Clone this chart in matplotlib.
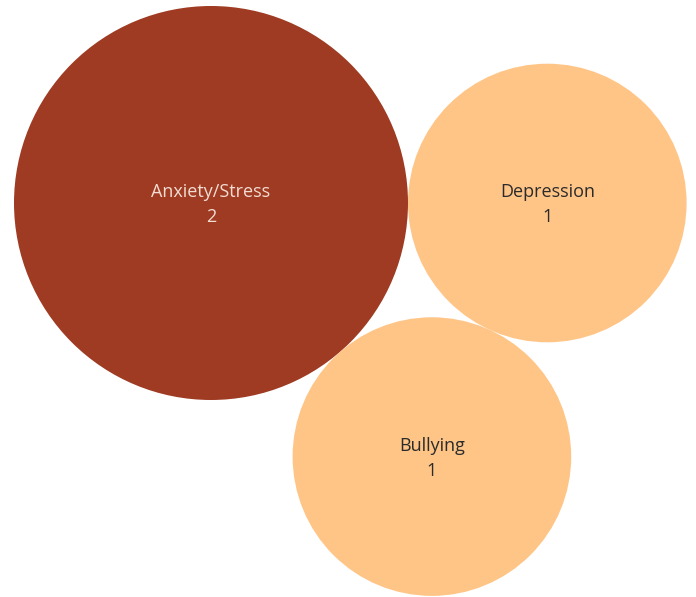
import numpy as np, matplotlib
matplotlib.use("Agg")
import matplotlib.pyplot as plt

categories = ['Anxiety/Stress', 'Depression', 'Bullying']
values = [2, 1, 1]
fills = ['#9E3B22', '#FFC587', '#FFC587']
label_colors = ['#F3DDD3', '#2B2B2B', '#2B2B2B']

# simple packing: first circle at origin, second to its right, third tangent to both (below)
r = np.sqrt(np.array(values, dtype=float))
cx = np.zeros(3); cy = np.zeros(3)
cx[1] = r[0] + r[1]
dab, dac, dbc = r[0] + r[1], r[0] + r[2], r[1] + r[2]
ca = (dab**2 + dac**2 - dbc**2) / (2 * dab * dac)
cx[2] = dac * ca
cy[2] = -dac * np.sqrt(1 - ca**2)

W, H = 696, 597
s = 139.3  # pixels per unit radius
x0 = -211 / s
y1 = 203 / s

fig = plt.figure(figsize=(W / 100, H / 100), dpi=100)
ax = fig.add_axes([0, 0, 1, 1])
ax.set_xlim(x0, x0 + W / s)
ax.set_ylim(y1 - H / s, y1)
ax.set_aspect('equal')
ax.axis('off')

for i in range(3):
    ax.add_patch(plt.Circle((cx[i], cy[i]), r[i], fc=fills[i], ec='none', zorder=1 + i))
    ax.text(cx[i], cy[i] + 11 / s, categories[i], ha='center', va='center',
            color=label_colors[i], fontsize=13, family='Open Sans', zorder=10)
    ax.text(cx[i], cy[i] - 14 / s, str(values[i]), ha='center', va='center',
            color=label_colors[i], fontsize=13, family='Open Sans', zorder=10)

fig.savefig('out.png', dpi=100)
